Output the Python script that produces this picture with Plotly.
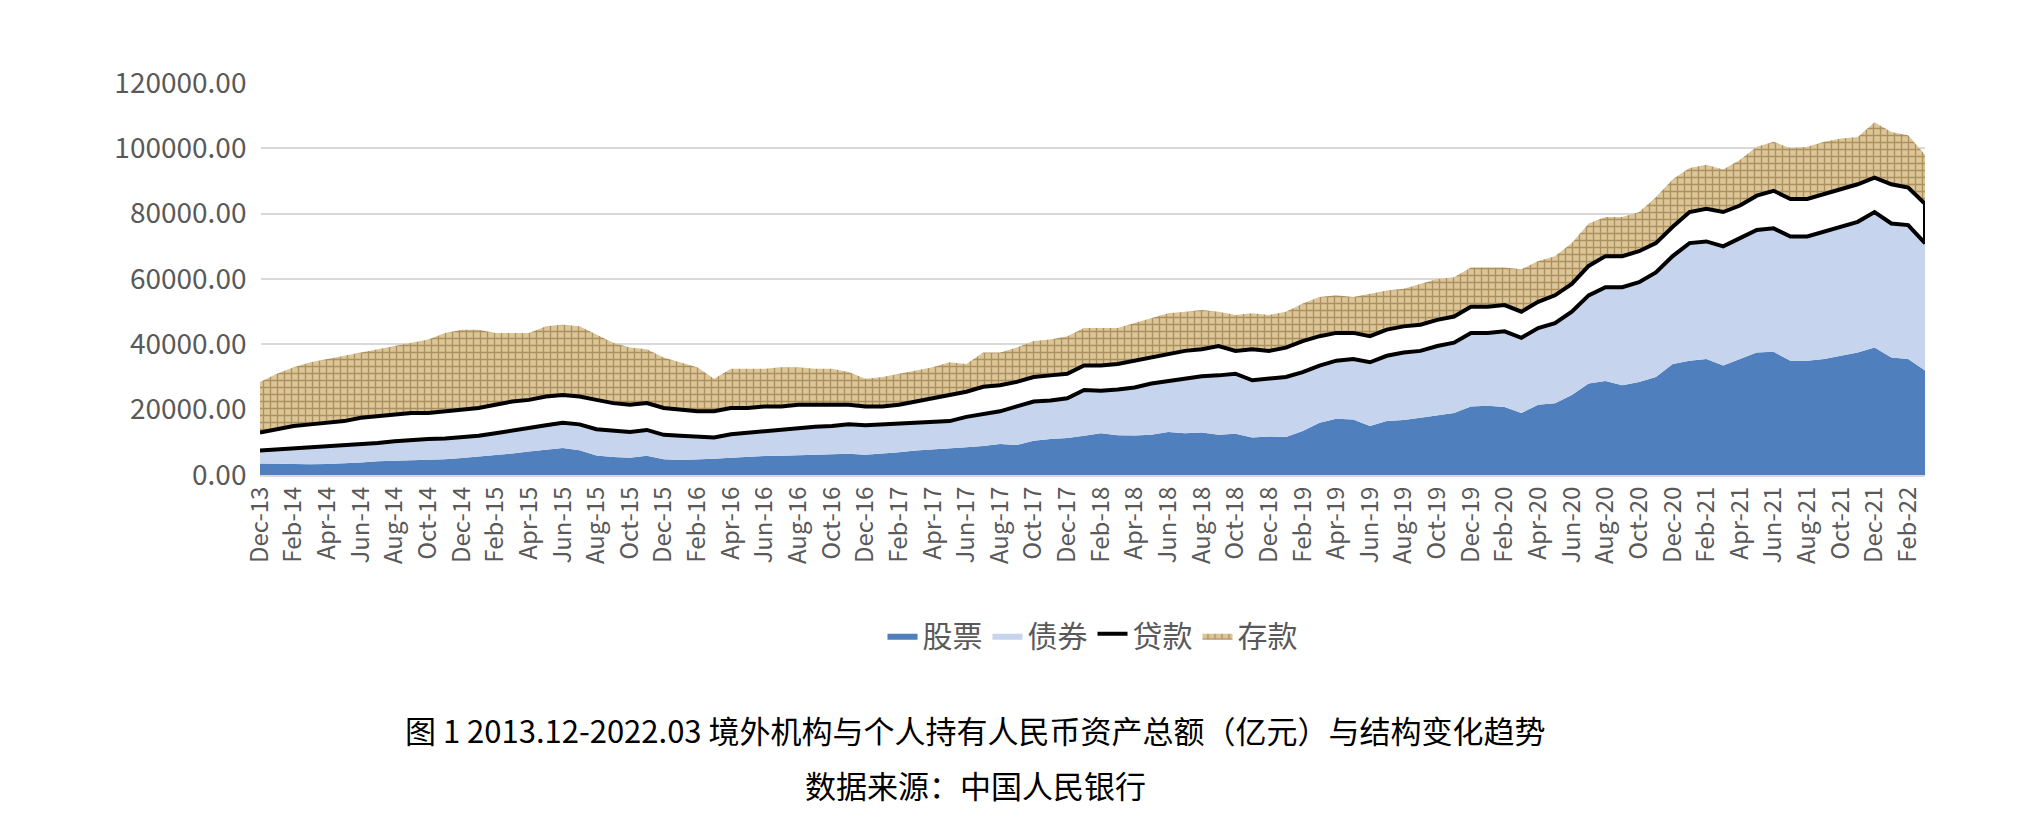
import plotly.graph_objects as go
import numpy as np

# month labels Dec-13 .. Mar-22
mon = ['Jan', 'Feb', 'Mar', 'Apr', 'May', 'Jun', 'Jul', 'Aug', 'Sep', 'Oct', 'Nov', 'Dec']
months = ['Dec-13'] + [f'{m}-{y:02d}' for y in range(14, 23) for m in mon][:99]

# stacked levels (亿元)
stock_top = [3500,
    3400, 3300, 3300, 3400, 3500, 3800, 4200, 4300, 4500, 4600, 4800, 5200,
    5600, 6000, 6600, 7200, 7800, 8300, 7600, 6000, 5500, 5300, 5900, 4800,
    4600, 4700, 5000, 5300, 5600, 5800, 5900, 6100, 6300, 6400, 6500, 6200,
    6500, 7000, 7500, 7800, 8000, 8500, 8900, 9500, 9200, 10500, 11000, 11300,
    12000, 12800, 12200, 12100, 12300, 13200, 12800, 13000, 12300, 12600, 11500, 11800,
    11600, 13500, 16000, 17200, 17000, 15000, 16500, 16800, 17500, 18300, 19000, 21000,
    21200, 20800, 19000, 21500, 22000, 24500, 28000, 28800, 27500, 28500, 30000, 34000,
    35000, 35500, 33500, 35500, 37500, 37700, 35000, 35000, 35500, 36500, 37500, 39000,
    36000, 35500, 32000]
bond_top = [7500,
    7800, 8000, 8300, 8700, 9000, 9500, 9800, 10300, 10800, 11000, 11200, 11500,
    12000, 12800, 13500, 14500, 15200, 16000, 15500, 14000, 13500, 13200, 13800, 12300,
    12000, 11700, 11500, 12500, 13000, 13200, 14000, 14300, 14800, 15000, 15500, 15200,
    15500, 15800, 16200, 16400, 16500, 17800, 18500, 19500, 21000, 22500, 22800, 23500,
    26000, 25800, 26200, 26800, 28000, 28800, 29500, 30200, 30500, 31000, 29000, 29500,
    30000, 31500, 33500, 35000, 35500, 34500, 36500, 37500, 38000, 39500, 40500, 43500,
    43500, 44000, 42000, 45000, 46500, 50000, 55000, 57500, 57500, 59000, 62000, 67000,
    71000, 71500, 70000, 72500, 75000, 75500, 73000, 73000, 74500, 76000, 77500, 80500,
    77000, 76500, 71000]
loan_top = [13000,
    14000, 15000, 15500, 16000, 16500, 17500, 18000, 18500, 19000, 19000, 19500, 20000,
    20500, 21500, 22500, 23000, 24000, 24500, 24000, 23000, 22000, 21500, 22000, 20500,
    20000, 19500, 19500, 20500, 20500, 21000, 21000, 21500, 21500, 21500, 21500, 21000,
    21000, 21500, 22500, 23500, 24500, 25500, 27000, 27500, 28500, 30000, 30500, 31000,
    33500, 33500, 34000, 35000, 36000, 37000, 38000, 38500, 39500, 38000, 38500, 38000,
    39000, 41000, 42500, 43500, 43500, 42500, 44500, 45500, 46000, 47500, 48500, 51500,
    51500, 52000, 50000, 53000, 55000, 58500, 64000, 67000, 67000, 68500, 71000, 76000,
    80500, 81500, 80500, 82500, 85500, 87000, 84500, 84500, 86000, 87500, 89000, 91000,
    89000, 88000, 83000]
deposit_top = [28500,
    31000, 33000, 34500, 35500, 36500, 37500, 38500, 39500, 40500, 41500, 43500, 44500,
    44500, 43500, 43500, 43500, 45500, 46000, 45500, 43000, 40500, 39000, 38500, 36000,
    34500, 33000, 29500, 32500, 32500, 32500, 33000, 33000, 32500, 32500, 31500, 29500,
    30000, 31000, 32000, 33000, 34500, 34000, 37500, 37500, 39000, 41000, 41500, 42500,
    45000, 45000, 45000, 46500, 48000, 49500, 50000, 50500, 50000, 49000, 49500, 49000,
    50000, 52500, 54500, 55000, 54500, 55500, 56500, 57000, 58500, 60000, 60500, 63500,
    63500, 63500, 63000, 65500, 67000, 71000, 77000, 79000, 79000, 80500, 85000, 90500,
    94000, 95000, 93500, 96500, 100500, 102000, 100000, 100500, 102000, 103000, 103500, 108000,
    105000, 104000, 98000]

x = np.arange(len(months))
FONT = 'Noto Sans CJK SC'

fig = go.Figure()
fig.add_trace(go.Scatter(x=x, y=stock_top, name='股票', mode='lines',
                         line=dict(color='#4f7fbc', width=0), fill='tozeroy', fillcolor='#4f7fbc'))
fig.add_trace(go.Scatter(x=x, y=bond_top, name='债券', mode='lines',
                         line=dict(color='#c6d4ed', width=0), fill='tonexty', fillcolor='#c6d4ed'))
fig.add_trace(go.Scatter(x=x, y=loan_top, name='贷款', mode='lines',
                         line=dict(color='black', width=4), fill='tonexty', fillcolor='white'))
fig.add_trace(go.Scatter(x=x, y=deposit_top, name='存款', mode='lines',
                         line=dict(color='#b89a62', width=0), fill='tonexty',
                         fillpattern=dict(shape='+', bgcolor='#dcc596', fgcolor='#7a5c2e',
                                          size=7, solidity=0.35)))
# black outline along bottom and right edge of the loan band
fig.add_trace(go.Scatter(x=list(x) + [x[-1]], y=bond_top + [loan_top[-1]], mode='lines',
                         line=dict(color='black', width=4), showlegend=False, hoverinfo='skip'))

fig.update_layout(
    width=2020, height=820,
    plot_bgcolor='white', paper_bgcolor='white',
    margin=dict(l=252, r=103, t=75, b=353),
    font=dict(family=FONT, color='#595959', size=22),
    legend=dict(orientation='h', traceorder='normal', x=0.5, xanchor='center',
                y=-0.41, yanchor='middle', font=dict(size=30, color='#595959')),
    xaxis=dict(range=[0, len(months) - 1], tickvals=x[::2], ticktext=months[::2],
               tickangle=-90, showgrid=False, showline=True, linecolor='#d9d9d9',
               linewidth=2, ticks='', tickfont=dict(size=24)),
    yaxis=dict(range=[0, 120000], dtick=20000, tickformat='.2f', showgrid=True,
               gridcolor='#d9d9d9', gridwidth=2, zeroline=False, tickfont=dict(size=28),
               ticksuffix='  '),
    annotations=[
        dict(text='图 1 2013.12-2022.03 境外机构与个人持有人民币资产总额（亿元）与结构变化趋势',
             xref='paper', yref='paper', x=0.43, y=-0.65, yanchor='middle', showarrow=False,
             font=dict(size=31, color='black', family=FONT)),
        dict(text='数据来源：中国人民银行', xref='paper', yref='paper', x=0.43, y=-0.79,
             yanchor='middle', showarrow=False, font=dict(size=31, color='black', family=FONT)),
    ],
)

fig.write_html('out.html')
